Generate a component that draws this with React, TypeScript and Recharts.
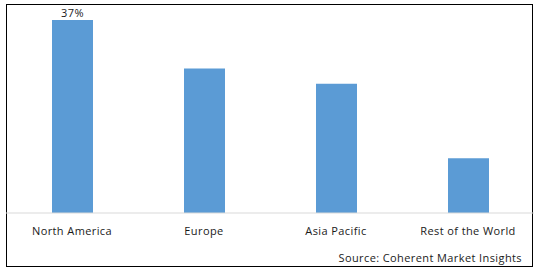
import React from "react";
import { BarChart, Bar, XAxis, YAxis, LabelList } from "recharts";

const regions = ["North America", "Europe", "Asia Pacific", "Rest of the World"];
const shares = [37, 27.7, 24.8, 10.5];
const shareLabels = ["37%", "", "", ""];
const sourceText = "Source: Coherent Market Insights";

const data = regions.map((r, i) => ({ region: r, share: shares[i], label: shareLabels[i] }));

const FONT = "'Open Sans', Lato, sans-serif";

export default function App() {
  return (
    <div style={{ position: "absolute", left: 0, top: 0, width: 538, height: 272, background: "#fff", fontFamily: FONT }}>
      <div
        style={{
          position: "absolute",
          left: 6,
          top: 4,
          width: 525,
          height: 261,
          border: "1px solid #000",
        }}
      />
      <BarChart
        width={538}
        height={272}
        data={data}
        margin={{ top: 20, right: 4, bottom: 29, left: 6 }}
        barSize={41}
        style={{ position: "absolute", left: 0, top: 0 }}
      >
        <YAxis hide domain={[0, 37]} />
        <XAxis
          dataKey="region"
          height={30}
          axisLine={{ stroke: "#D9D9D9" }}
          tickLine={false}
          tickMargin={8}
          interval={0}
          tick={{ fill: "#1a1a1a", fontSize: 11, fontFamily: FONT, letterSpacing: 0.4 }}
        />
        <Bar dataKey="share" fill="#5B9BD5" isAnimationActive={false}>
          <LabelList dataKey="label" position="top" offset={3} fill="#1a1a1a" fontSize={11} fontFamily={FONT} letterSpacing={0.4} />
        </Bar>
      </BarChart>
      <div
        style={{
          position: "absolute",
          right: 16,
          top: 251,
          fontSize: 11,
          letterSpacing: 0.4,
          color: "#1a1a1a",
          whiteSpace: "nowrap",
          lineHeight: "14px",
        }}
      >
        {sourceText}
      </div>
    </div>
  );
}
